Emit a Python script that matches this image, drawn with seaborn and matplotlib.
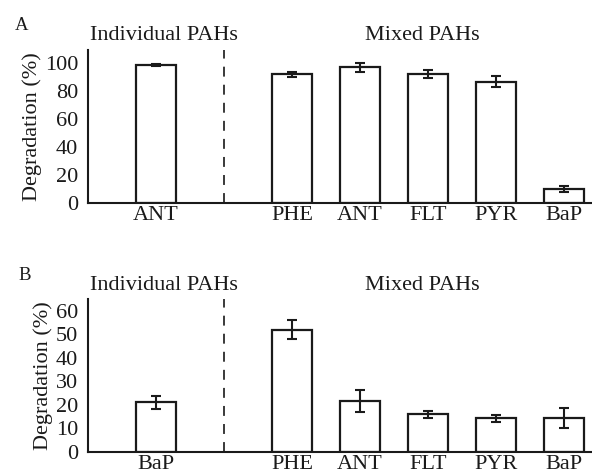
import matplotlib
matplotlib.use("Agg")
import matplotlib.pyplot as plt
import seaborn as sns
import numpy as np
import pandas as pd

# ---- data ----
positions = [0, 2, 3, 4, 5, 6]
labels = ["ANT", "PHE", "ANT", "FLT", "PYR", "BaP"]
labels_b = ["BaP", "PHE", "ANT", "FLT", "PYR", "BaP"]
values_a = [98.1, 91.6, 96.6, 91.9, 86.4, 9.8]
errors_a = [0.6, 1.5, 3.0, 3.0, 3.8, 2.0]
values_b = [21.1, 52.0, 21.6, 16.0, 14.3, 14.3]
errors_b = [2.9, 4.2, 4.7, 1.5, 1.6, 4.2]
yticks_a = [0, 20, 40, 60, 80, 100]
yticks_b = [0, 10, 20, 30, 40, 50, 60]

sns.set_theme(style="ticks")
plt.rcParams["font.family"] = ["Liberation Serif", "DejaVu Serif"]

fig = plt.figure(figsize=(5.92, 4.76), dpi=100)
W, H = 592, 476
FS = 16

def add_ax(top_px, bottom_px):
    left = 88 / W
    return fig.add_axes([left, 1 - bottom_px / H, 1 - left, (bottom_px - top_px) / H])

ax_a = add_ax(50, 203)
ax_b = add_ax(299, 452)

def draw(ax, vals, errs, tlabels, ylim, yticks, panel, title_y):
    df = pd.DataFrame({"pos": positions, "val": vals})
    sns.barplot(data=df, x="pos", y="val", native_scale=True, width=0.6,
                color="white", edgecolor="#1a1a1a", linewidth=1.6, ax=ax,
                errorbar=None)
    ax.errorbar(positions, vals, yerr=errs, fmt="none", ecolor="#1a1a1a",
                elinewidth=1.5, capsize=3.5, capthick=1.5, zorder=5)
    ax.axvline(1, color="#2a2a2a", lw=1.3, ls=(0, (5.5, 4.5)))
    ax.set_xlim(-1, -1 + 504 / 68)
    ax.set_ylim(*ylim)
    ax.set_yticks(yticks)
    ax.set_xticks(positions)
    ax.set_xticklabels(tlabels)
    ax.tick_params(axis="both", length=0, labelsize=FS, colors="#1a1a1a")
    ax.tick_params(axis="y", pad=7)
    ax.tick_params(axis="x", pad=2)
    ax.set_xlabel("")
    ax.set_ylabel("Degradation (%)", fontsize=FS, color="#1a1a1a", labelpad=2)
    for s in ["top", "right"]:
        ax.spines[s].set_visible(False)
    for s in ["left", "bottom"]:
        ax.spines[s].set_linewidth(1.5)
        ax.spines[s].set_color("#1a1a1a")
    fig.text(title_y[2] / W, 1 - title_y[0] / H, panel, fontsize=13.5, ha="center", va="center", color="#1a1a1a")
    fig.text(164 / W, 1 - title_y[1] / H, "Individual PAHs", fontsize=FS, ha="center", va="center", color="#1a1a1a")
    fig.text(422 / W, 1 - title_y[1] / H, "Mixed PAHs", fontsize=FS, ha="center", va="center", color="#1a1a1a")

draw(ax_a, values_a, errors_a, labels, (0, 109), yticks_a, "A", (26, 36, 22))
draw(ax_b, values_b, errors_b, labels_b, (0, 65), yticks_b, "B", (275, 286, 25))

fig.savefig("out.png", dpi=100)
